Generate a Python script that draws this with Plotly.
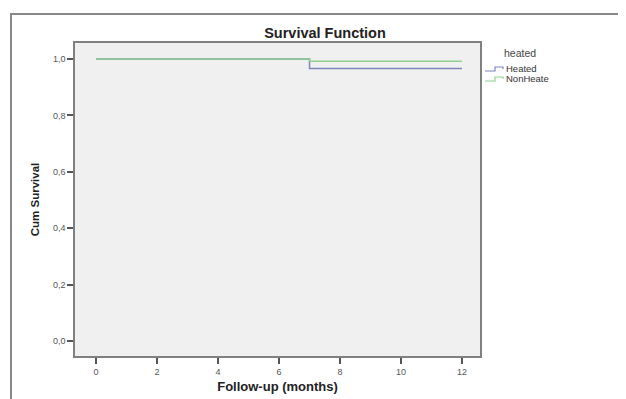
import plotly.graph_objects as go

# Data
heated_time = [0, 7, 12]
heated_surv = [1.0, 0.967, 0.967]
nonheated_time = [0, 7, 12]
nonheated_surv = [1.0, 0.992, 0.992]
series_names = ["Heated", "NonHeate"]
series_colors = ["#7d86bd", "#8fd08f"]
legend_title = "heated"
x_ticks = [0, 2, 4, 6, 8, 10, 12]
y_ticks = [0.0, 0.2, 0.4, 0.6, 0.8, 1.0]

# page has an 8px body margin, so the figure is drawn 8px in from the corner
OFF = 8
W, H = 626 - OFF, 399 - OFF
ml, mr, mt, mb = 75 - OFF, 146, 43 - OFF, 43
pw, ph = W - ml - mr, H - mt - mb


def px_x(P):
    return (P - OFF - ml) / pw


def px_y(P):
    return 1 - (P - OFF - mt) / ph


fig = go.Figure()
fig.add_trace(go.Scatter(x=heated_time, y=heated_surv, mode="lines", line_shape="hv",
                         name=series_names[0], line=dict(color=series_colors[0], width=1.5)))
fig.add_trace(go.Scatter(x=nonheated_time, y=nonheated_surv, mode="lines", line_shape="hv",
                         name=series_names[1], line=dict(color=series_colors[1], width=1.5)))

fig.update_layout(
    width=W, height=H,
    margin=dict(l=ml, r=mr, t=mt, b=mb, autoexpand=False),
    paper_bgcolor="white",
    plot_bgcolor="#f0f0f0",
    separators=", ",
    showlegend=False,
    font=dict(family="Liberation Sans, Arial, sans-serif", color="#333"),
    title=dict(text="<b>Survival Function</b>", xref="container", x=(325 - OFF) / W,
               xanchor="center", yref="container", y=1 - (33 - OFF) / H, yanchor="middle",
               font=dict(size=14.5, color="#222")),
    xaxis=dict(range=[-0.69, 12.59], tickvals=x_ticks, ticks="outside", ticklen=6,
               tickcolor="#555", tickwidth=1.5, showgrid=False, zeroline=False,
               showline=True, linecolor="#808080", linewidth=1.5, mirror=True,
               tickfont=dict(size=9, color="#555"),
               title=dict(text="<b>Follow-up (months)</b>", font=dict(size=13, color="#222"),
                          standoff=6)),
    yaxis=dict(range=[-0.053, 1.057], tickvals=y_ticks, tickformat=".1f", ticks="outside",
               ticklen=6, tickcolor="#555", tickwidth=1.5, showgrid=False, zeroline=False,
               showline=True, linecolor="#808080", linewidth=1.5, mirror=True,
               tickfont=dict(size=9, color="#555"),
               title=dict(text="<b>Cum Survival</b>", font=dict(size=11.5, color="#222"),
                          standoff=11)),
)

# outer frame (only top and left visible)
fig.add_shape(type="rect", xref="paper", yref="paper",
              x0=px_x(11), x1=px_x(660), y0=px_y(14), y1=px_y(430),
              line=dict(color="#888", width=2), fillcolor="rgba(0,0,0,0)", layer="below")

# custom legend
fig.add_annotation(xref="paper", yref="paper", x=px_x(502), y=px_y(53), xanchor="left",
                   yanchor="middle", text=legend_title, showarrow=False,
                   font=dict(size=10.5, color="#444"))
item_y = [69, 79]
for name, color, yy in zip(series_names, series_colors, item_y):
    path = (f"M {px_x(485)},{px_y(yy + 2)} L {px_x(495)},{px_y(yy + 2)} "
            f"L {px_x(495)},{px_y(yy - 2)} L {px_x(503)},{px_y(yy - 2)} "
            f"L {px_x(503)},{px_y(yy)}")
    fig.add_shape(type="path", xref="paper", yref="paper", path=path,
                  line=dict(color=color, width=1.2))
    fig.add_annotation(xref="paper", yref="paper", x=px_x(504), y=px_y(yy), xanchor="left",
                       yanchor="middle", text=name, showarrow=False,
                       font=dict(size=9.5, color="#333"))

fig.write_html("out.html")
